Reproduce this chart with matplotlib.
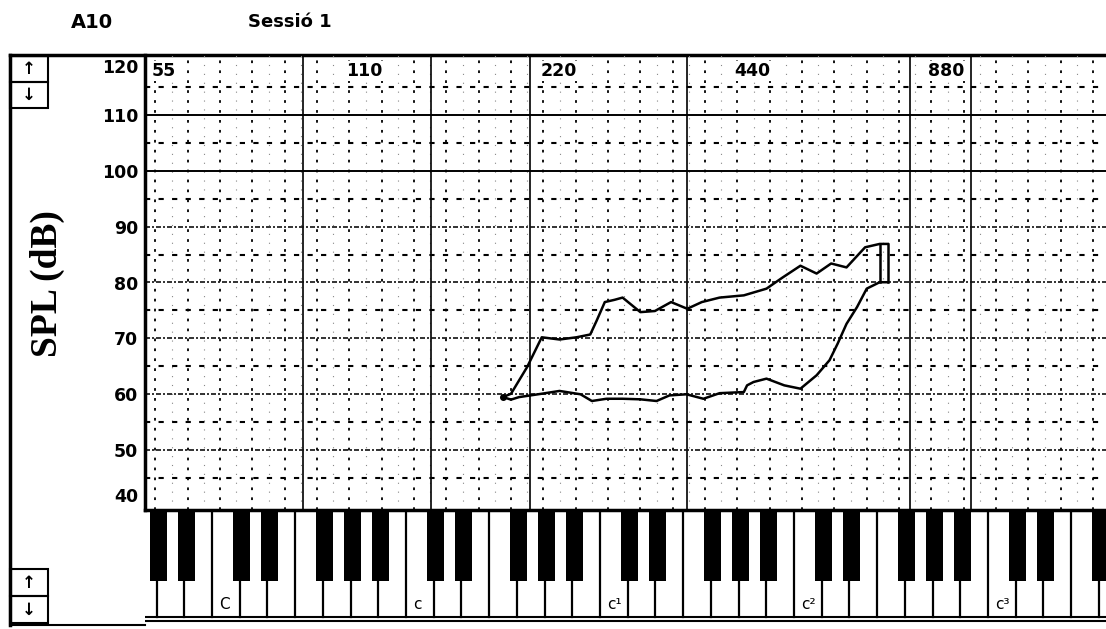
import numpy as np
import matplotlib
matplotlib.use('Agg')
import matplotlib.pyplot as plt
from matplotlib import font_manager
from matplotlib.patches import Rectangle

# Fonogram: x in semitones (MIDI number), y in dB SPL
upper_semi = [53.5, 54.0, 55.0, 55.9, 57.0, 58.05, 58.9, 59.3, 59.8, 60.4, 60.9, 62.0, 62.9,
              63.9, 64.9, 65.8, 66.9, 68.4, 69.8, 70.8, 71.9, 72.9, 73.8, 74.75, 75.9, 76.8, 77.3]
upper_db = [59.5, 60.1, 64.9, 70.2, 69.8, 70.2, 70.7, 73.2, 76.5, 76.9, 77.3, 74.7, 74.9,
            76.5, 75.3, 76.5, 77.3, 77.7, 78.9, 80.9, 83.0, 81.6, 83.4, 82.7, 86.3, 86.9, 86.9]
lower_semi = [77.3, 76.8, 76.0, 75.4, 74.75, 74.2, 73.7, 72.9, 71.9, 70.9, 69.8, 69.0, 68.6,
              68.4, 66.9, 65.9, 64.85, 63.8, 63.0, 62.0, 60.9, 59.9, 59.0, 58.3, 57.0, 55.9,
              54.5, 54.0, 53.5]
lower_db = [80.05, 80.05, 78.9, 75.6, 72.6, 69.05, 66.1, 63.4, 61.0, 61.6, 62.8, 62.2, 61.6,
            60.4, 60.2, 59.2, 60.0, 59.8, 58.8, 59.1, 59.2, 59.2, 58.8, 60.0, 60.6, 60.1,
            59.5, 59.05, 59.5]

freq_labels = [55, 110, 220, 440, 880]
db_ticks = [40, 50, 60, 70, 80, 90, 100, 110, 120]
key_names = ['C', 'c', 'c¹', 'c²', 'c³']

W, H = 1106, 629
fig = plt.figure(figsize=(W / 100, H / 100), dpi=100)

names = {f.name for f in font_manager.fontManager.ttflist}
if 'Liberation Sans Narrow' in names:
    tick_font, tick_size = 'Liberation Sans Narrow', 16
else:
    tick_font, tick_size = 'DejaVu Sans', 12.5

# fons / marc en coordenades de píxel
bg = fig.add_axes([0, 0, 1, 1], zorder=0)
bg.set_xlim(0, W)
bg.set_ylim(H, 0)
bg.axis('off')
bg.plot([10, 10], [55, 625], color='black', lw=2.5)
bg.plot([10, W], [55, 55], color='black', lw=2.5)
bg.plot([10, 145], [625, 625], color='black', lw=1.5)
for (y0, y1, ch) in [(56, 82, '↑'), (82, 108, '↓'), (569, 596, '↑'), (596, 623, '↓')]:
    bg.add_patch(Rectangle((10, y0), 38, y1 - y0, fill=False, ec='black', lw=1.5))
    bg.text(29, (y0 + y1) / 2, ch, ha='center', va='center', fontsize=12,
            fontweight='bold', color='black')

fig.text(92 / W, 1 - 22 / H, 'A10', ha='center', va='center', fontsize=14,
         fontweight='bold')
fig.text(290 / W, 1 - 22 / H, 'Sessió 1', ha='center', va='center', fontsize=13,
         fontweight='bold')
fig.text(47 / W, 1 - 284 / H, 'SPL (dB)', rotation=90, ha='center', va='center',
         fontsize=27, fontweight='bold', family=['Liberation Serif', 'DejaVu Serif'])

# àrea del gràfic
ax = fig.add_axes([145 / W, 1 - 510 / H, 961 / W, 455 / H], zorder=2)
ax.patch.set_alpha(0)
ax.set_xlim(31.36, 90.8)
ax.set_ylim(39.3, 120.7)

for s in range(32, 92):
    if s % 2 == 0:
        ax.axvline(s, color='black', lw=1.3, ls=(0, (1.5, 4)), zorder=1)
    else:
        ax.axvline(s, color='#888888', lw=0.8, ls=(0, (1, 7)), zorder=1)
for s in [41.13, 49.05, 55.17, 64.88, 78.68, 82.44]:
    ax.axvline(s, color='black', lw=1.2, zorder=1)
for d in range(45, 120, 10):
    ax.axhline(d, color='black', lw=1.5, ls=(0, (2.5, 4)), zorder=1)
for d in range(50, 120, 10):
    if d >= 100:
        ax.axhline(d, color='black', lw=1.4, zorder=1)
    else:
        ax.axhline(d, color='#111111', lw=1.2, ls=(0, (3, 1.2, 1.2, 1.2)), zorder=1)

# perfil de veu
ax.plot(upper_semi, upper_db, color='black', lw=1.8, zorder=3)
ax.plot(lower_semi, lower_db, color='black', lw=1.8, zorder=3)
ax.plot([upper_semi[-1], lower_semi[0]], [upper_db[-1], lower_db[0]], color='black',
        lw=1.8, zorder=3)
ax.plot([upper_semi[-2], lower_semi[1]], [upper_db[-2], lower_db[1]], color='black',
        lw=1.8, zorder=3)
ax.plot(upper_semi[0], upper_db[0], 'o', color='black', ms=4, zorder=3)

for f in freq_labels:
    s = 69 + 12 * np.log2(f / 440) - 1.2
    ax.text(s, 117.8, str(f), ha='left', va='center', fontsize=12.5,
            fontweight='bold', zorder=4,
            bbox=dict(boxstyle='square,pad=0.05', fc='white', ec='none'))

ax.set_yticks(db_ticks)
ax.set_yticklabels([str(d) for d in db_ticks], fontsize=tick_size,
                   fontweight='bold', family=tick_font)
ax.tick_params(axis='y', length=0, pad=5)
ax.set_xticks([])
labs = ax.get_yticklabels()
labs[0].set_va('bottom')
labs[-1].set_va('top')
for side in ['right', 'top']:
    ax.spines[side].set_visible(False)
ax.spines['left'].set_linewidth(2.5)
ax.spines['bottom'].set_linewidth(2.5)

# teclat
kb = fig.add_axes([145 / W, 5 / H, 961 / W, 114 / H], sharex=ax, zorder=1)
kb.set_ylim(0, 114)
kb.axis('off')
w = 12 / 7
for k in range(-1, 6):
    s0 = 35.5 + 12 * k
    for j in range(7):
        b = s0 + j * w
        top = 114 if j in (0, 3) else 43
        kb.plot([b, b], [7, top], color='black', lw=1.6)
    for j in (1, 2, 4, 5, 6):
        c = s0 + j * w + 0.12
        kb.add_patch(Rectangle((c - 0.525, 43), 1.05, 71, color='black', lw=0))
    if 0 <= k < len(key_names):
        kb.text(s0 + 0.45, 12, key_names[k], ha='left', va='bottom', fontsize=11)
kb.axhline(7, color='black', lw=1.5)
kb.axhline(3, color='black', lw=1.5)
kb.set_xlim(31.36, 90.8)

fig.savefig('out.png', dpi=100)
